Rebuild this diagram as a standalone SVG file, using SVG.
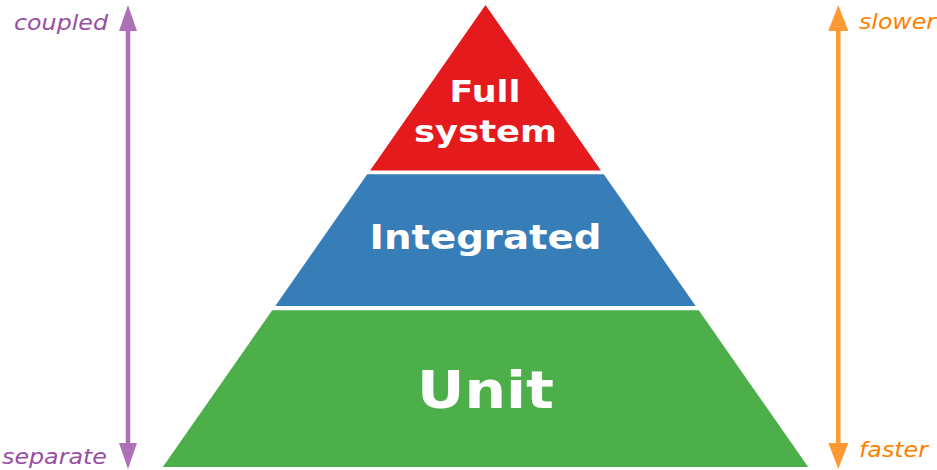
<svg xmlns="http://www.w3.org/2000/svg" width="937" height="470" viewBox="0 0 937 470">
<style>
.lbl{font-family:"DejaVu Sans","Liberation Sans",sans-serif;font-weight:bold;fill:#ffffff;text-anchor:middle}
.side{font-family:"DejaVu Sans","Liberation Sans",sans-serif;font-style:italic;font-size:22px}
.pur{fill:#984ea3}
.org{fill:#ff7f00}
</style>
<defs>
<marker id="ahP" viewBox="0 0 26 18" markerWidth="26" markerHeight="18" refX="0" refY="9" orient="auto-start-reverse" markerUnits="userSpaceOnUse">
<path d="M0,0 L26,9 L0,18 Z" fill="#ad71b5"/>
</marker>
<marker id="ahO" viewBox="0 0 26 20" markerWidth="26" markerHeight="20" refX="0" refY="10" orient="auto-start-reverse" markerUnits="userSpaceOnUse">
<path d="M0,0 L26,10 L0,20 Z" fill="#ff9933"/>
</marker>
</defs>
<g id="full-system">
<polygon points="485.5,5 600.9,170.5 370.1,170.5" fill="#e41a1c"/>
<text class="lbl" x="485" y="101.5" font-size="31" textLength="71" lengthAdjust="spacingAndGlyphs">Full</text>
<text class="lbl" x="485.5" y="141.5" font-size="31" textLength="143" lengthAdjust="spacingAndGlyphs">system</text>
</g>
<g id="integrated">
<polygon points="367.2,174.3 603.8,174.3 695.7,306 275.3,306" fill="#377eb8"/>
<text class="lbl" x="485.5" y="249" font-size="34" textLength="232" lengthAdjust="spacingAndGlyphs">Integrated</text>
</g>
<g id="unit">
<polygon points="272.2,310.3 698.8,310.3 808.2,467 162.8,467" fill="#4daf4a"/>
<text class="lbl" x="485.5" y="408" font-size="52" textLength="137" lengthAdjust="spacingAndGlyphs">Unit</text>
</g>
<g id="axis-coupling">
<text class="side pur" x="14" y="30" textLength="94" lengthAdjust="spacingAndGlyphs">coupled</text>
<text class="side pur" x="2" y="463.5" textLength="105" lengthAdjust="spacingAndGlyphs">separate</text>
</g>
<g id="axis-speed">
<text class="side org" x="859" y="29" textLength="77" lengthAdjust="spacingAndGlyphs">slower</text>
<text class="side org" x="859" y="457" textLength="69" lengthAdjust="spacingAndGlyphs">faster</text>
</g>
<g id="connectors">
<line x1="128" y1="31" x2="128" y2="443" stroke="#ad71b5" stroke-width="4.5" marker-start="url(#ahP)" marker-end="url(#ahP)"/>
<line x1="838.3" y1="31" x2="838.3" y2="443" stroke="#ff9933" stroke-width="4.5" marker-start="url(#ahO)" marker-end="url(#ahO)"/>
</g>
</svg>
